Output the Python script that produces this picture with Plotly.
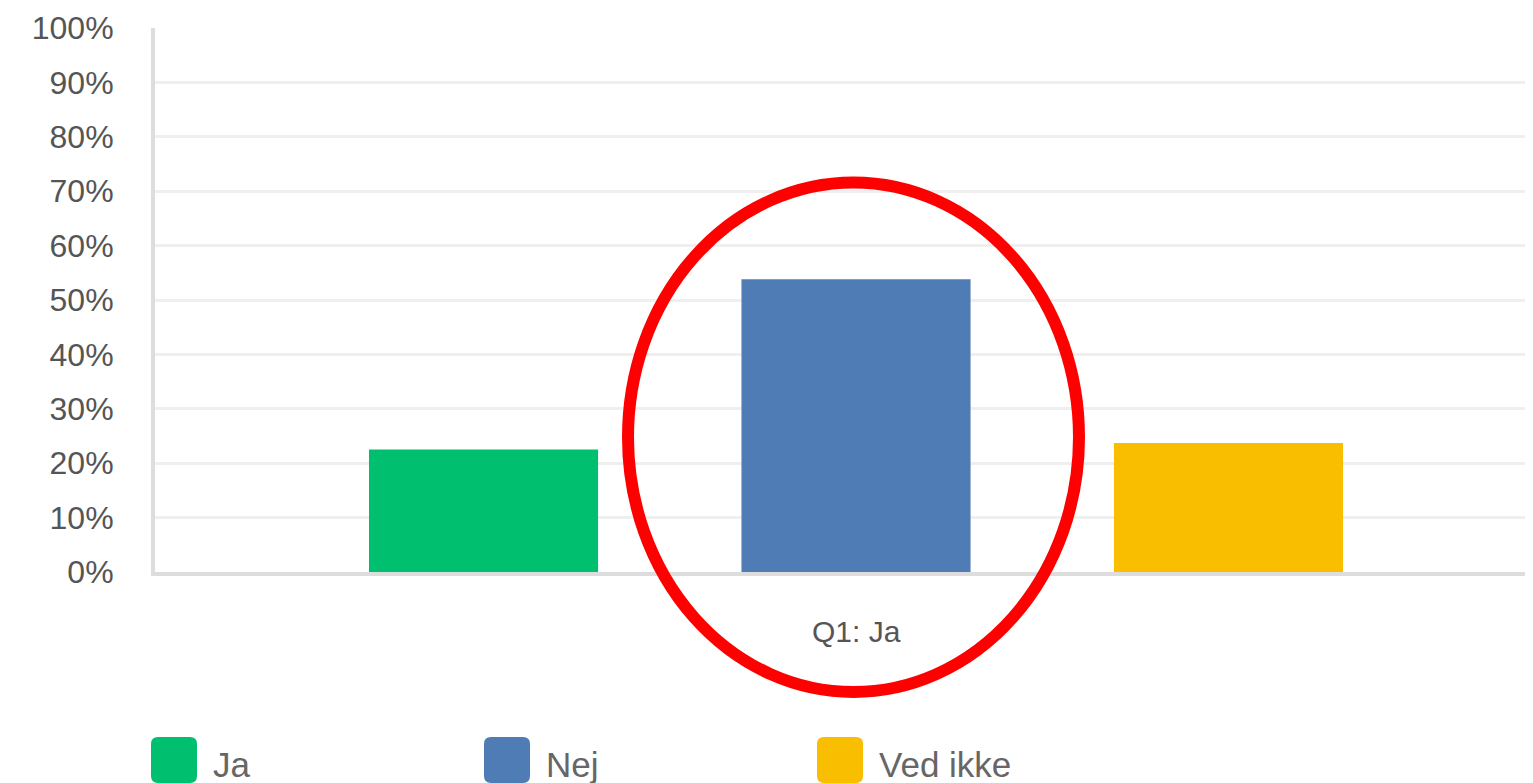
import plotly.graph_objects as go

# ---- data ----
categories = ["Ja", "Nej", "Ved ikke"]
values = [22.5, 53.8, 23.7]
colors = ["#00BF6F", "#507CB6", "#F9BE00"]
group_label = "Q1: Ja"
y_ticks = list(range(0, 101, 10))
y_tick_labels = [f"{v}%" for v in y_ticks]

# page body has an 8px default margin -> compensate
OFF = 8
W, H = 1533 - OFF, 783 - OFF
ML, MR, MT = 155 - OFF, 0, 28 - OFF
PLOT_BOTTOM = 572 - OFF
MB = H - PLOT_BOTTOM
PW, PH = W - ML - MR, H - MT - MB

FONT = "Liberation Sans, Arial, sans-serif"

fig = go.Figure()
fig.add_trace(go.Bar(
    x=categories, y=values,
    marker=dict(color=colors, line=dict(width=0)),
    width=0.615, showlegend=False, hoverinfo="x+y",
))

def px2paper_x(px):  # px in window coordinates
    return (px - OFF - ML) / PW

def px2paper_y(py):
    return (PLOT_BOTTOM - (py - OFF)) / PH

shapes = []
annotations = []

# red highlight ellipse
shapes.append(dict(
    type="circle", xref="paper", yref="paper",
    x0=px2paper_x(628), x1=px2paper_x(1079),
    y0=px2paper_y(692), y1=px2paper_y(182.5),
    line=dict(color="#FF0000", width=12), layer="above",
))

# group label
annotations.append(dict(
    x=1, xref="x", y=px2paper_y(631), yref="paper",
    text=group_label, showarrow=False, xanchor="center", yanchor="middle",
    font=dict(family=FONT, size=30, color="#555555"),
))

# custom legend (rounded squares + labels)
s = 46
r = 7
h = s / 2
rounded = (f"M {-h+r},{-h} L {h-r},{-h} Q {h},{-h} {h},{-h+r} "
           f"L {h},{h-r} Q {h},{h} {h-r},{h} L {-h+r},{h} "
           f"Q {-h},{h} {-h},{h-r} L {-h},{-h+r} Q {-h},{-h} {-h+r},{-h} Z")
leg_x0 = 151
leg_step = 333
for i, (cat, col) in enumerate(zip(categories, colors)):
    cx = leg_x0 + i * leg_step + s / 2
    cy = 737 + s / 2
    shapes.append(dict(
        type="path", xref="paper", yref="paper",
        xsizemode="pixel", ysizemode="pixel",
        xanchor=px2paper_x(cx), yanchor=px2paper_y(cy),
        path=rounded, fillcolor=col, line=dict(width=0),
    ))
    annotations.append(dict(
        x=px2paper_x(leg_x0 + i * leg_step + 60), xref="paper",
        y=px2paper_y(764), yref="paper",
        text=cat, showarrow=False, xanchor="left", yanchor="middle",
        font=dict(family=FONT, size=35, color="#666666"),
    ))

fig.update_layout(
    width=W, height=H,
    margin=dict(l=ML, r=MR, t=MT, b=MB, pad=0),
    paper_bgcolor="white", plot_bgcolor="white",
    bargap=0.385,
    xaxis=dict(
        type="category", range=[-0.882, 2.8175],
        showticklabels=False, ticks="", showgrid=False, zeroline=False,
        showline=True, linecolor="#DDDDDD", linewidth=4, layer="below traces",
        fixedrange=True,
    ),
    yaxis=dict(
        range=[0, 100], tickvals=y_ticks, ticktext=y_tick_labels,
        showgrid=True, gridcolor="#EFEFEF", gridwidth=3, zeroline=False,
        showline=True, linecolor="#DDDDDD", linewidth=4,
        ticks="", ticklabelstandoff=31,
        tickfont=dict(family=FONT, size=32, color="#555555"),
        layer="below traces", fixedrange=True,
    ),
    shapes=shapes, annotations=annotations,
    showlegend=False,
)

fig.write_html("out.html", include_plotlyjs=True, config={"displayModeBar": False})
